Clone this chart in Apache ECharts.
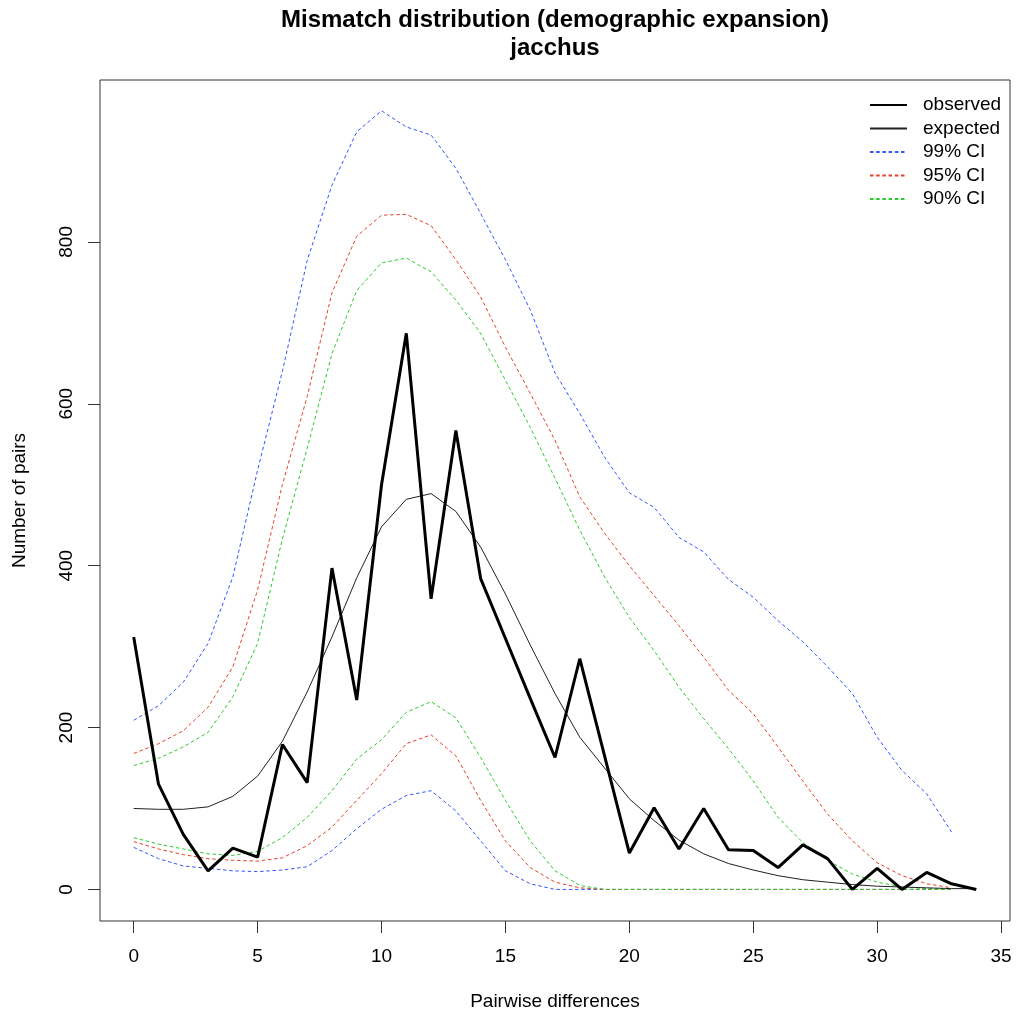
<!DOCTYPE html>
<html>
<head>
<meta charset="utf-8">
<script src="https://cdn.jsdelivr.net/npm/echarts@6/dist/echarts.min.js"></script>
<style>
html,body{margin:0;padding:0;background:#fff;}
#chart{width:1016px;height:1017px;}
</style>
</head>
<body>
<div id="chart"></div>
<script>
// Pairwise differences (x values)
var diffs = [0,1,2,3,4,5,6,7,8,9,10,11,12,13,14,15,16,17,18,19,20,21,22,23,24,25,26,27,28,29,30,31,32,33,34];
var ciDiffs = [0,1,2,3,4,5,6,7,8,9,10,11,12,13,14,15,16,17,18,19,20,21,22,23,24,25,26,27,28,29,30,31,32,33];

var observed = [312,130,68,23,51,40,179,132,397,234,500,687,359,567,384,310,236,163,285,165,45,101,50,100,49,48,27,55,38,0,26,0,21,7,0];
var expected = [100,99,99,102,115,140,183,244,312,385,448,482,489,467,423,365,302,242,188,150,112,85,61,44,32,24,17,12,9,6,4,3,2,1,1];

var upper99 = [209,227,256,304,386,518,640,777,870,936,962,942,932,891,835,778,716,638,588,534,490,472,435,417,383,361,332,306,275,242,188,147,118,71];
var upper95 = [168,180,196,225,275,370,500,609,737,807,833,834,820,778,732,670,613,555,485,440,400,363,326,287,246,217,176,134,93,60,33,17,7,2];
var upper90 = [153,162,176,194,238,304,433,545,662,740,774,780,763,728,687,629,571,508,444,386,336,295,250,211,174,134,89,58,36,19,9,3,1,0];
var lower99 = [52,38,29,26,23,22,24,28,48,75,99,116,122,97,60,23,7,0,0,0,0,0,0,0,0,0,0,0,0,0,0,0,0,0];
var lower95 = [59,50,43,38,36,35,39,54,77,110,143,180,191,165,110,60,27,9,2,0,0,0,0,0,0,0,0,0,0,0,0,0,0,0];
var lower90 = [64,56,50,44,42,47,64,89,122,161,185,219,232,212,163,110,60,23,5,0,0,0,0,0,0,0,0,0,0,0,0,0,0,0];

var xTicks = [0,5,10,15,20,25,30,35];
var yTicks = [0,200,400,600,800];

var titleText = 'Mismatch distribution (demographic expansion)\njacchus';
var xName = 'Pairwise differences';
var yName = 'Number of pairs';

function pairs(xs, ys){ return xs.map(function(x,i){ return [x, ys[i]]; }); }

var FONT = '"Liberation Sans", Arial, sans-serif';
var C99 = '#3355ff', C95 = '#e8402a', C90 = '#2ccc2c';
var DASH = [3.5, 2.7];

function ciSeries(name, color, ys){
  return {
    name: name, type: 'line', data: pairs(ciDiffs, ys), symbol: 'none',
    lineStyle: {color: color, width: 1, type: DASH}, itemStyle: {color: color},
    silent: true, z: 2
  };
}

var chart = echarts.init(document.getElementById('chart'), null, {renderer: 'canvas'});
chart.setOption({
  animation: false,
  backgroundColor: '#ffffff',
  title: {
    text: titleText, left: 555, top: 6.5, textAlign: 'center', padding: 0,
    textStyle: {fontFamily: FONT, fontSize: 24, fontWeight: 'bold', color: '#000', lineHeight: 28}
  },
  legend: {
    orient: 'vertical', left: 869, top: 95.5, padding: 0, itemGap: 4.5,
    itemWidth: 37, itemHeight: 14,
    itemStyle: {opacity: 0},
    data: ['observed', 'expected', '99% CI', '95% CI', '90% CI'],
    textStyle: {fontFamily: FONT, fontSize: 19, lineHeight: 19, color: '#000', padding: [0,0,0,11]}
  },
  grid: {left: 100, top: 80, right: 6, bottom: 96, show: true, borderColor: '#333', borderWidth: 1, backgroundColor: 'transparent', containLabel: false},
  xAxis: {
    type: 'value', min: -1.36, max: 35.36, position: 'bottom',
    name: xName, nameLocation: 'middle', nameGap: 71.5,
    nameTextStyle: {fontFamily: FONT, fontSize: 19, color: '#000'},
    axisLine: {show: false, onZero: false},
    axisTick: {show: true, inside: false, length: 12, customValues: xTicks, lineStyle: {color: '#333'}},
    axisLabel: {customValues: xTicks, fontFamily: FONT, fontSize: 19, color: '#000', margin: 26.5},
    splitLine: {show: false}
  },
  yAxis: {
    type: 'value', min: -39, max: 1000, position: 'left',
    name: yName, nameLocation: 'middle', nameGap: 70.5,
    nameTextStyle: {fontFamily: FONT, fontSize: 19, color: '#000'},
    axisLine: {show: false, onZero: false},
    axisTick: {show: true, inside: false, length: 12, customValues: yTicks, lineStyle: {color: '#333'}},
    axisLabel: {customValues: yTicks, fontFamily: FONT, fontSize: 19, color: '#000', margin: 23.5, rotate: 90},
    splitLine: {show: false}
  },
  series: [
    ciSeries('99% CI', C99, upper99),
    ciSeries('99% CI', C99, lower99),
    ciSeries('95% CI', C95, upper95),
    ciSeries('95% CI', C95, lower95),
    ciSeries('90% CI', C90, upper90),
    ciSeries('90% CI', C90, lower90),
    {name: 'expected', type: 'line', data: pairs(diffs, expected), symbol: 'none', silent: true, z: 3,
     lineStyle: {color: '#222', width: 1}, itemStyle: {color: '#222'}},
    {name: 'observed', type: 'line', data: pairs(diffs, observed), symbol: 'none', silent: true, z: 4,
     lineStyle: {color: '#000', width: 3}, itemStyle: {color: '#000'}}
  ]
});
</script>
</body>
</html>
